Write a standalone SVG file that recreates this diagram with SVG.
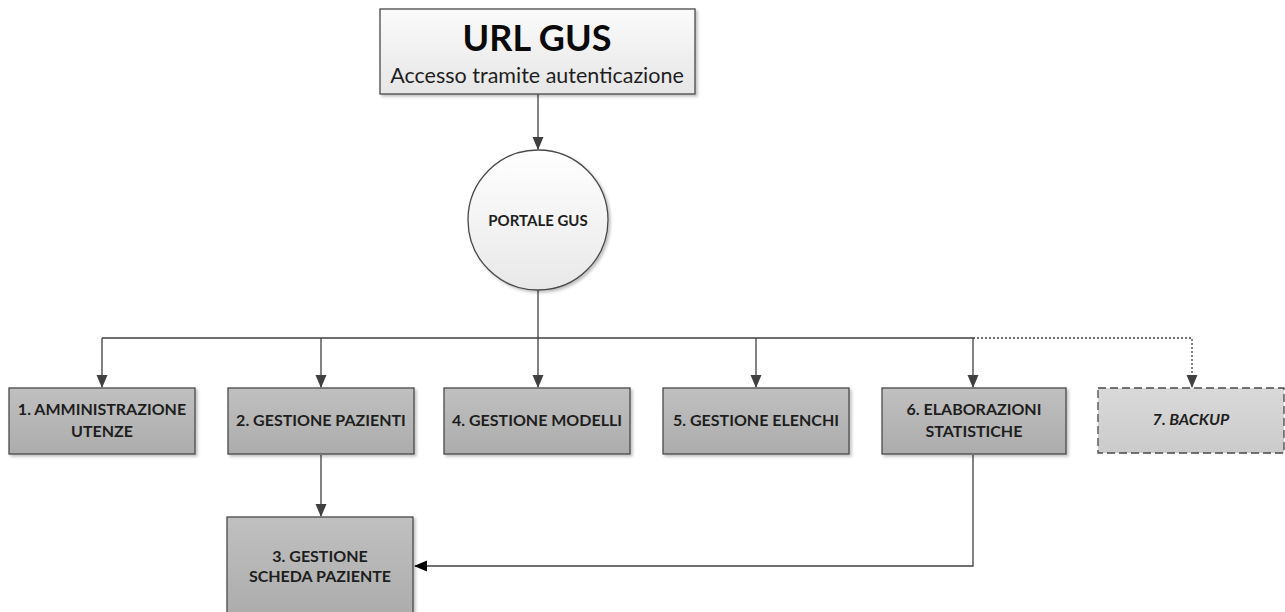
<svg xmlns="http://www.w3.org/2000/svg" width="1285" height="612" viewBox="0 0 1285 612">
<defs>
<linearGradient id="gTop" x1="0" y1="0" x2="0" y2="1"><stop offset="0" stop-color="#fbfbfb"/><stop offset="1" stop-color="#e6e6e6"/></linearGradient>
<linearGradient id="gCirc" x1="0" y1="0" x2="0" y2="1"><stop offset="0" stop-color="#ffffff"/><stop offset="1" stop-color="#e8e8e8"/></linearGradient>
<linearGradient id="gBox" x1="0" y1="0" x2="0" y2="1"><stop offset="0" stop-color="#c0c0c0"/><stop offset="1" stop-color="#acacac"/></linearGradient>
<linearGradient id="gBk" x1="0" y1="0" x2="0" y2="1"><stop offset="0" stop-color="#d9d9d9"/><stop offset="1" stop-color="#cbcbcb"/></linearGradient>
<filter id="sh" x="-10%" y="-10%" width="130%" height="130%"><feDropShadow dx="2" dy="2" stdDeviation="1.5" flood-color="#000" flood-opacity="0.25"/></filter>
<marker id="ah" viewBox="0 0 13 12" refX="12" refY="6" markerWidth="13" markerHeight="12" markerUnits="userSpaceOnUse" orient="auto"><path d="M0,0.5 L13,6 L0,11.5 Z" fill="#404040"/></marker>
<marker id="ahk" viewBox="0 0 13 12" refX="12" refY="6" markerWidth="13" markerHeight="12" markerUnits="userSpaceOnUse" orient="auto"><path d="M0,0.5 L13,6 L0,11.5 Z" fill="#000"/></marker>
</defs>
<style>
.box{fill:url(#gBox);stroke:#4a4a4a;stroke-width:1.3;filter:url(#sh)}
.lbl{font-family:Lato,"Liberation Sans",sans-serif;font-weight:bold;font-size:16px;fill:#1e1e1e;text-anchor:middle}
.ln{fill:none;stroke:#404040;stroke-width:1.3}
</style>
<g id="connectors">
<path class="ln" d="M538,94 V149" marker-end="url(#ah)"/>
<path class="ln" d="M538,290 V387" marker-end="url(#ah)"/>
<path class="ln" d="M102,338 H973"/>
<path class="ln" d="M102,338 V387" marker-end="url(#ah)"/>
<path class="ln" d="M321,338 V387" marker-end="url(#ah)"/>
<path class="ln" d="M756,338 V387" marker-end="url(#ah)"/>
<path class="ln" d="M973,338 V387" marker-end="url(#ah)"/>
<path class="ln" d="M973,338 H1192 V387" stroke-dasharray="2,2" marker-end="url(#ah)"/>
<path class="ln" d="M321,455 V516" marker-end="url(#ah)"/>
<path class="ln" d="M973,455 V566 H415" stroke="#111" marker-end="url(#ahk)"/>
</g>
<g id="url-gus">
<rect x="380" y="9" width="315" height="85" fill="url(#gTop)" stroke="#4a4a4a" stroke-width="1.3" filter="url(#sh)"/>
<text x="537" y="51" font-family="Lato,'Liberation Sans',sans-serif" font-weight="bold" font-size="36" fill="#0a0a0a" text-anchor="middle">URL GUS</text>
<text x="537" y="83" font-family="Lato,'Liberation Sans',sans-serif" font-size="21.5" fill="#1e1e1e" text-anchor="middle">Accesso tramite autenticazione</text>
</g>
<g id="portale-gus">
<circle cx="538" cy="220" r="70" fill="url(#gCirc)" stroke="#4a4a4a" stroke-width="1.3" filter="url(#sh)"/>
<text x="538" y="226" class="lbl" style="font-size:15px">PORTALE GUS</text>
</g>
<g id="n1">
<rect class="box" x="9" y="388" width="186" height="66"/>
<text class="lbl" x="102" y="415">1. AMMINISTRAZIONE</text>
<text class="lbl" x="102" y="437">UTENZE</text>
</g>
<g id="n2">
<rect class="box" x="228" y="388" width="186" height="66"/>
<text class="lbl" x="321" y="426">2. GESTIONE PAZIENTI</text>
</g>
<g id="n3">
<rect class="box" x="227" y="517" width="186" height="100"/>
<text class="lbl" x="320" y="562">3. GESTIONE</text>
<text class="lbl" x="320" y="582">SCHEDA PAZIENTE</text>
</g>
<g id="n4">
<rect class="box" x="444" y="388" width="186" height="66"/>
<text class="lbl" x="537" y="426">4. GESTIONE MODELLI</text>
</g>
<g id="n5">
<rect class="box" x="663" y="388" width="186" height="66"/>
<text class="lbl" x="756" y="426">5. GESTIONE ELENCHI</text>
</g>
<g id="n6">
<rect class="box" x="882" y="388" width="184" height="66"/>
<text class="lbl" x="974" y="415">6. ELABORAZIONI</text>
<text class="lbl" x="974" y="437">STATISTICHE</text>
</g>
<g id="n7">
<rect x="1098" y="388" width="186" height="65" fill="url(#gBk)" stroke="#4a4a4a" stroke-width="1.3" stroke-dasharray="8,4"/>
<text class="lbl" x="1191" y="425" font-style="italic">7. BACKUP</text>
</g>
</svg>
